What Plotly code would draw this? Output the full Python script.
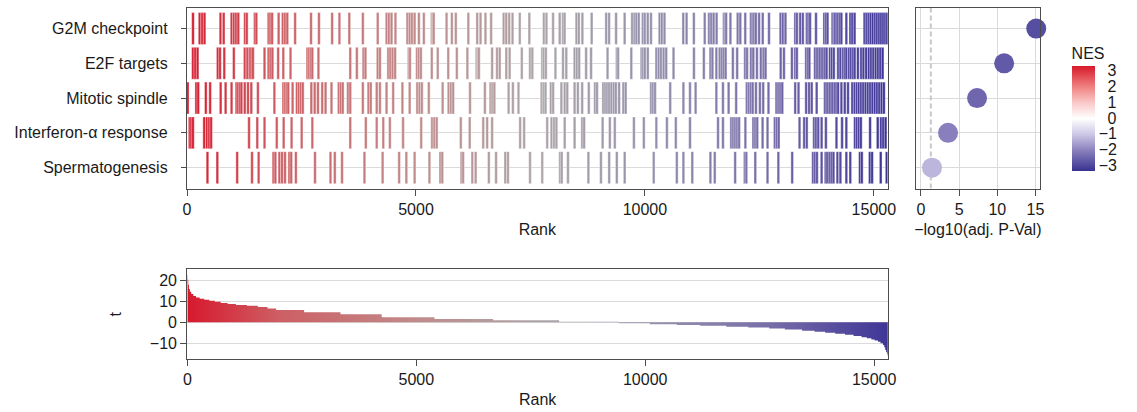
import plotly.graph_objects as go

# ---------------- data ----------------
pathways = ["G2M checkpoint", "E2F targets", "Mitotic spindle",
            "Interferon-α response", "Spermatogenesis"]

rank_g2m = [130, 274, 331, 382, 730, 800, 972, 1023, 1070, 1120, 1265, 1305, 1480, 1515,
            1780, 1820, 1858, 2000, 2090, 2139, 2190, 2360, 2708, 2881, 3169, 3328, 3544,
            3840, 4164, 4358, 4408, 4466, 4552, 4812, 4862, 4913, 4970, 5064, 5172, 5345,
            5366, 5388, 5668, 5784, 5870, 6144, 6338, 6410, 6518, 6641, 6914, 6972, 7037,
            7109, 7267, 7476, 7793, 7850, 7994, 8138, 8210, 8246, 8505, 8556, 8635, 8837,
            9154, 9218, 9370, 9557, 9722, 9773, 9816, 9866, 9953, 9996, 10061, 10133, 10320,
            10370, 10428, 10838, 10910, 11069, 11306, 11400, 11450, 11501, 11566, 11724,
            11753, 11774, 11868, 12026, 12084, 12192, 12314, 12350, 12386, 12422, 12494,
            12573, 12710, 12962, 13012, 13070, 13283, 13320, 13391, 13449, 13535, 13571,
            13607, 13737, 13917, 13953, 13989, 14097, 14122, 14148, 14184, 14220, 14256,
            14292, 14400, 14486, 14530, 14580, 14796, 14840, 14885, 14930, 14976, 15026,
            15070, 15115, 15160, 15205, 15250, 15290]

rank_e2f = [129, 180, 230, 670, 720, 814, 1022, 1260, 1318, 1368, 1404, 1440, 1692, 1779,
            1822, 1865, 1990, 2103, 2260, 2629, 2665, 2701, 2737, 2870, 3565, 3709, 3853,
            3897, 4163, 4213, 4394, 4440, 4490, 4545, 4841, 4869, 5021, 5064, 5107, 5345,
            5475, 5705, 5892, 6123, 6324, 6353, 6375, 6663, 6771, 6829, 6973, 7045, 7311,
            7491, 7542, 7758, 7794, 7837, 8046, 8212, 8284, 8464, 8514, 8565, 8716, 8824,
            9184, 9386, 9415, 9703, 9926, 9962, 9998, 10063, 10250, 10301, 10351, 10409,
            10466, 10625, 11071, 11287, 11431, 11475, 11561, 11633, 11676, 11719, 11763,
            11921, 12015, 12188, 12231, 12317, 12368, 12447, 12533, 12591, 12635, 12965,
            13037, 13211, 13283, 13319, 13521, 13557, 13593, 13715, 13751, 13787, 13823,
            13859, 13896, 13932, 13968, 14040, 14083, 14126, 14220, 14270, 14328, 14364,
            14400, 14457, 14501, 14544, 14580, 14652, 14724, 14774, 14832, 14890, 14940,
            14990, 15041, 15091, 15142, 15192]

rank_mitotic = [14, 201, 244, 410, 504, 734, 842, 972, 1080, 1116, 1152, 1188, 1260, 1332,
                1404, 1548, 1908, 2103, 2139, 2175, 2211, 2305, 2398, 2441, 2485, 2528, 2715,
                2787, 2859, 2953, 3025, 3155, 3313, 3357, 3400, 3515, 3565, 3839, 3962, 4012,
                4142, 4213, 4357, 4502, 4704, 4862, 5028, 5078, 5129, 5280, 5582, 5712, 5763,
                5813, 6180, 6505, 6627, 6670, 6713, 7023, 7117, 7239, 7743, 7787, 7830, 7945,
                7996, 8176, 8248, 8305, 8464, 8536, 8630, 8774, 8910, 8954, 9090, 9134, 9177,
                9220, 9270, 9321, 9364, 9436, 9530, 9580, 10135, 10178, 10221, 10553, 10841,
                10985, 11107, 11561, 11705, 11828, 11993, 12224, 12267, 12310, 12353, 12425,
                12512, 12584, 12699, 12872, 12915, 12958, 13001, 13283, 13355, 13521, 13586,
                13643, 13751, 13932, 13968, 14004, 14040, 14076, 14112, 14148, 14184, 14220,
                14292, 14364, 14436, 14529, 14580, 14630, 14673, 14720, 14770, 14820, 14870,
                14920, 14970, 15020, 15070, 15120, 15170, 15220]

rank_ifna = [57, 93, 129, 374, 432, 482, 526, 1354, 1534, 1692, 1959, 2110, 2283, 2503, 2737,
             3565, 3904, 4142, 4286, 4430, 4718, 5114, 5352, 5402, 5453, 5979, 6173, 6469,
             6555, 6663, 7275, 7362, 7866, 7960, 8017, 8068, 8248, 8464, 8630, 8673, 9076,
             9234, 9342, 9760, 9976, 10250, 10481, 10675, 10985, 11597, 11705, 11885, 11928,
             11971, 12015, 12058, 12195, 12368, 12411, 12454, 12570, 12678, 12836, 12879,
             12922, 13377, 13478, 13535, 13694, 13737, 13787, 13859, 13953, 14184, 14306,
             14400, 14587, 14630, 14673, 14717, 14918, 15084, 15156, 15206, 15257]

rank_sperm = [446, 662, 1095, 1419, 1563, 1887, 1930, 2017, 2074, 2139, 2233, 2276, 2377,
              2795, 3133, 3227, 3385, 3875, 4271, 4632, 4790, 4970, 5294, 5532, 5575, 5993,
              6029, 6231, 6303, 6591, 6749, 6951, 7009, 7491, 7758, 8147, 8183, 8320, 8766,
              9040, 9220, 9386, 9558, 10192, 10697, 10841, 11035, 11431, 11525, 11971, 12180,
              12216, 12411, 12678, 12915, 13217, 13672, 13715, 13758, 13859, 13946, 13982,
              14032, 14076, 14119, 14205, 14270, 14400, 14486, 14695, 14738, 14911, 14962,
              15150, 15280]

gene_ranks = [rank_g2m, rank_e2f, rank_mitotic, rank_ifna, rank_sperm]

neg_log10_padj = [15.1, 10.9, 7.35, 3.55, 1.45]
nes = [-2.85, -2.65, -2.45, -2.05, -1.25]
padj_cutoff = 1.3

# ranked t-statistic (rank where each level starts, t value)
t_rank = [0, 8, 20, 35, 55, 85, 130, 190, 270, 370, 480, 600, 730, 880, 1060, 1300, 1540,
          1750, 1940, 2550, 3345, 4245, 5397, 6678, 8119, 9430, 10100, 10690, 11200, 11771,
          12250, 12707, 13050, 13427, 13700, 13931, 14150, 14364, 14550, 14724, 14840,
          14940, 15010, 15084, 15140, 15192, 15220, 15242, 15262, 15278, 15290, 15300]
t_value = [22.7, 20.5, 18.0, 16.0, 14.6, 13.5, 12.6, 11.9, 11.3, 10.8, 10.3, 9.8, 9.3, 8.8,
           8.3, 7.9, 7.3, 6.6, 5.9, 4.8, 3.8, 2.4, 1.6, 1.0, 0.3, -0.5, -0.9, -1.3, -1.7,
           -2.1, -2.5, -3.0, -3.5, -4.0, -4.5, -5.0, -5.5, -6.0, -6.6, -7.2, -7.7, -8.2,
           -8.7, -9.3, -10.0, -10.9, -12.0, -13.3, -14.2, -15.0, -15.8, -16.5]

n_genes = 15300
rank_ticks = [0, 5000, 10000, 15000]
padj_ticks = [0, 5, 10, 15]
t_ticks = [-10, 0, 10, 20]
nes_ticks = [3, 2, 1, 0, -1, -2, -3]
nes_limit = 3.32

# ---------------- style ----------------
W, H = 1137, 412
FONT = "Liberation Sans, Arial, sans-serif"
TXT = "#1a1a1a"
AXC = "#4d4d4d"
GRID = "#dadada"

rank_scale = [[0.0, "rgb(215,25,45)"], [0.13, "rgb(205,95,100)"],
              [0.33, "rgb(192,140,140)"], [0.5, "rgb(172,165,168)"],
              [0.66, "rgb(150,145,172)"], [0.82, "rgb(120,110,168)"],
              [1.0, "rgb(60,50,150)"]]
nes_scale = [[0.0, "rgb(55,50,145)"], [0.2, "rgb(140,130,190)"],
             [0.35, "rgb(205,200,230)"], [0.5, "rgb(255,255,255)"],
             [0.65, "rgb(250,200,200)"], [0.8, "rgb(240,130,130)"],
             [1.0, "rgb(215,25,40)"]]

def px_x(p):
    return p / W

def px_y(p):
    return 1 - p / H

def fmt(v):
    return ("\u2212" + str(-v)) if v < 0 else str(v)

row_of = {name: len(pathways) - i for i, name in enumerate(pathways)}
bar_h = 0.92

fig = go.Figure()

for name, ranks in zip(pathways, gene_ranks):
    r = row_of[name]
    fig.add_trace(go.Bar(
        x=ranks, y=[bar_h] * len(ranks), base=[r - bar_h / 2] * len(ranks),
        width=58,
        marker=dict(color=ranks, colorscale=rank_scale, cmin=0, cmax=n_genes,
                    line=dict(color="white", width=0.4)),
        xaxis="x", yaxis="y", showlegend=False, hoverinfo="skip"))

# dot plot
rows = [row_of[n] for n in pathways]
fig.add_trace(go.Scatter(
    x=[padj_cutoff, padj_cutoff], y=[0.4, 5.6], mode="lines",
    line=dict(color="#cccccc", width=2.2, dash="5px,3px"),
    xaxis="x2", yaxis="y2", showlegend=False, hoverinfo="skip"))

tick_text = [("\u2007" + str(v)) if v >= 0 else fmt(v) for v in nes_ticks]
fig.add_trace(go.Scatter(
    x=neg_log10_padj, y=rows, mode="markers", cliponaxis=False,
    marker=dict(size=20, color=nes, colorscale=nes_scale, cmin=-nes_limit, cmax=nes_limit,
                line=dict(width=0),
                showscale=True,
                colorbar=dict(x=px_x(1079), xanchor="left", xpad=0,
                              y=px_y(107), yanchor="middle", ypad=0,
                              len=127, lenmode="pixels", thickness=23,
                              outlinewidth=0, ticks="",
                              tickvals=nes_ticks, ticktext=tick_text,
                              tickfont=dict(size=16, family=FONT, color=TXT),
                              title=dict(text="NES", side="top",
                                         font=dict(size=16, family=FONT, color=TXT)))),
    xaxis="x2", yaxis="y2", showlegend=False, hoverinfo="skip"))

# ranked t statistic
fig.add_trace(go.Scatter(
    x=t_rank, y=t_value, mode="lines", line=dict(width=0, shape="hv"),
    fill="tozeroy",
    fillgradient=dict(type="horizontal", colorscale=rank_scale, start=0, stop=n_genes),
    xaxis="x3", yaxis="y3", showlegend=False, hoverinfo="skip"))

common = dict(showline=True, mirror=True, linecolor=AXC, linewidth=1.4,
              tickcolor=AXC, tickwidth=1.3, zeroline=False,
              tickfont=dict(size=16, family=FONT, color=TXT))

fig.update_layout(
    width=W, height=H, margin=dict(l=0, r=0, t=0, b=0),
    paper_bgcolor="white", plot_bgcolor="white", barmode="overlay",
    font=dict(family=FONT, size=16, color=TXT),
    xaxis=dict(domain=[px_x(185), px_x(893)], range=[0, n_genes], tickvals=rank_ticks,
               ticktext=[fmt(v) for v in rank_ticks],
               ticks="outside", ticklen=6, showgrid=False, anchor="y",
               title=dict(text="Rank", standoff=6, font=dict(size=16)), **common),
    yaxis=dict(domain=[px_y(188.5), px_y(7.7)], range=[0.4, 5.6],
               tickvals=rows, ticktext=pathways, ticks="outside", ticklen=5,
               ticklabelstandoff=10,
               showgrid=True, gridcolor=GRID, gridwidth=1.2, anchor="x", **common),
    xaxis2=dict(domain=[px_x(921.7), px_x(1046.7)], range=[-0.65, 15.55],
                tickvals=padj_ticks, ticktext=[fmt(v) for v in padj_ticks],
                ticks="outside", ticklen=6,
                showgrid=True, gridcolor=GRID, gridwidth=1.2, anchor="y2",
                title=dict(text="\u2212log10(adj. P-Val)", standoff=6, font=dict(size=16)),
                **common),
    yaxis2=dict(domain=[px_y(188.5), px_y(7.7)], range=[0.4, 5.6], tickvals=rows,
                showticklabels=False, ticks="", showgrid=True, gridcolor=GRID,
                gridwidth=1.2, anchor="x2", **common),
    xaxis3=dict(domain=[px_x(185.3), px_x(893.3)], range=[0, n_genes], tickvals=rank_ticks,
                ticktext=[fmt(v) for v in rank_ticks],
                ticks="outside", ticklen=6, showgrid=False, anchor="y3",
                title=dict(text="Rank", standoff=6, font=dict(size=16)), **common),
    yaxis3=dict(domain=[px_y(359), px_y(269.3)], range=[-17.6, 25.4], tickvals=t_ticks,
                ticktext=[fmt(v) for v in t_ticks],
                ticks="outside", ticklen=6, showgrid=True, gridcolor=GRID, gridwidth=1.2,
                anchor="x3", title=dict(text="t", standoff=24, font=dict(size=16)),
                **common),
)

fig.write_html("out.html")
